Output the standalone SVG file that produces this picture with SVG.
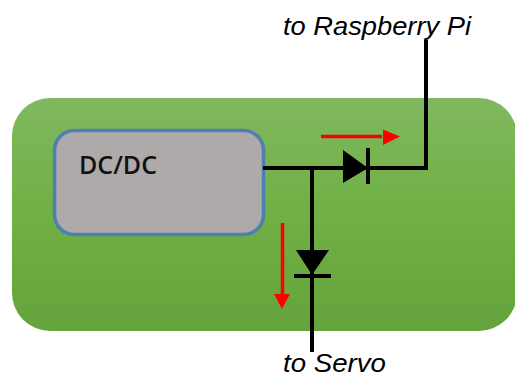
<svg xmlns="http://www.w3.org/2000/svg" width="515" height="376" viewBox="0 0 515 376">
<style>
.wire{fill:none;stroke:#000;stroke-width:4}
.flow{fill:none;stroke:#f00;stroke-width:3.500}
.lbl{font-family:"Liberation Sans",Arial,sans-serif;font-style:italic;font-size:25px;fill:#000}
</style>
<defs>
<linearGradient id="g" x1="0" y1="0" x2="0" y2="1"><stop offset="0" stop-color="#80b85f"/><stop offset="0.5" stop-color="#70b045"/><stop offset="1" stop-color="#65a33c"/></linearGradient>
</defs>
<rect width="515" height="376" fill="#fff"/>
<g id="board"><rect x="12" y="98" width="505" height="233" rx="38" ry="38" fill="url(#g)"/></g>
<g id="dcdc"><rect x="54.500" y="130.500" width="209" height="104" rx="20" ry="20" fill="#aeaaaa" stroke="#4f7fae" stroke-width="3.500"/>
<text x="79" y="174" font-family="'Open Sans','Noto Sans',sans-serif" font-size="25" font-weight="600" fill="#111" textLength="78" lengthAdjust="spacingAndGlyphs">DC/DC</text></g>
<g id="connectors">
<path class="wire" d="M263 168H426V40"/>
<path class="wire" d="M312 168V352"/>
<path class="flow" d="M321 136.500H382"/>
<path d="M383 129.500L400 136.500L383 145Z" fill="#f00"/>
<path class="flow" d="M282.500 223V295"/>
<path d="M274 294H290L282 309Z" fill="#f00"/>
</g>
<g id="diode-right"><path d="M343 150L368 168L343 183Z" fill="#000"/><path class="wire" d="M368 148V184"/></g>
<g id="diode-down"><path d="M296 250H329L312 275Z" fill="#000"/><path class="wire" d="M294 276H331"/></g>
<g id="label-pi"><text class="lbl" x="283" y="35" textLength="188" lengthAdjust="spacingAndGlyphs">to Raspberry Pi</text></g>
<g id="label-servo"><text class="lbl" x="283" y="372" textLength="103" lengthAdjust="spacingAndGlyphs">to Servo</text></g>
</svg>
